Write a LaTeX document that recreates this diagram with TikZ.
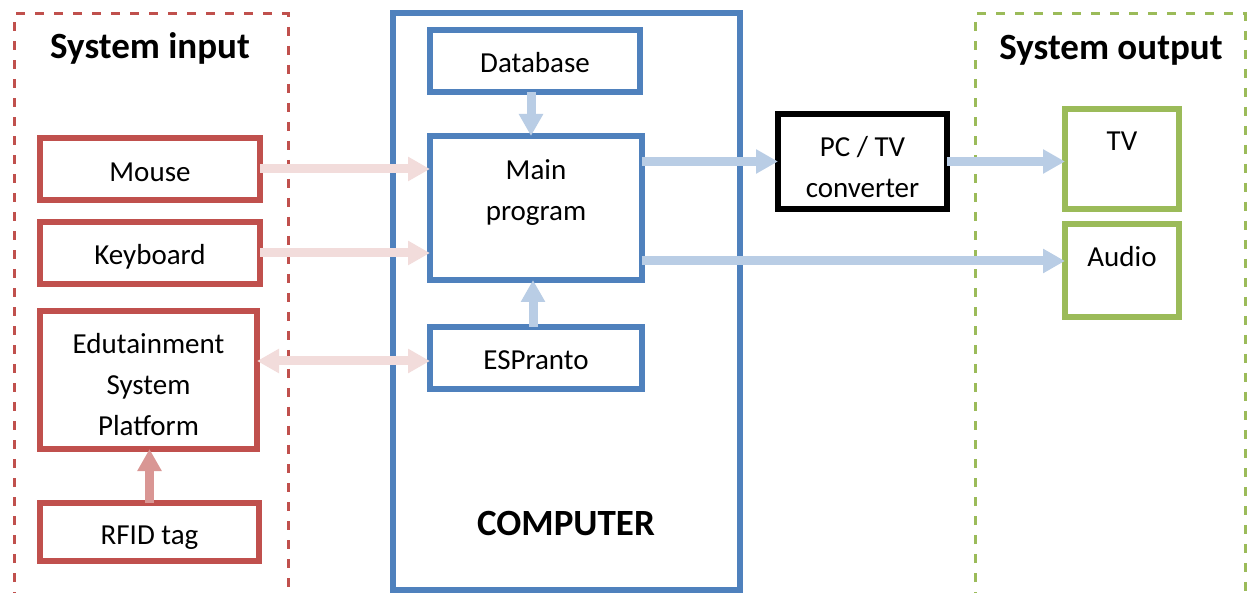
\documentclass[tikz,border=0pt]{standalone}
\usepackage{fontspec}
\setmainfont{Carlito}
\usetikzlibrary{arrows.meta}

\definecolor{inred}{HTML}{C0504D}
\definecolor{pcblue}{HTML}{4F81BD}
\definecolor{outgreen}{HTML}{9BBB59}
\definecolor{flowpink}{HTML}{F2DCDB}
\definecolor{flowblue}{HTML}{B9CDE5}
\definecolor{tagpink}{HTML}{D99694}

\begin{document}
\begin{tikzpicture}[x=1pt,y=-1pt,
  box/.style={draw, line width=6pt, fill=white, inner sep=0pt, outer sep=0pt},
  redbox/.style={box, draw=inred},
  bluebox/.style={box, draw=pcblue},
  greenbox/.style={box, draw=outgreen},
  blackbox/.style={box, draw=black},
  boxtext/.style={font=\fontsize{29}{41}\selectfont, inner sep=0pt, outer sep=0pt, anchor=north, align=center},
  heading/.style={font=\fontsize{37}{44}\selectfont\bfseries, inner sep=0pt, anchor=base},
  group/.style={line width=3pt, dash pattern=on 9pt off 10pt},
  flow/.style={line width=9pt, -{Triangle[width=23pt,length=22pt]}},
  inflow/.style={flow, draw=flowpink},
  pcflow/.style={flow, draw=flowblue},
  tagflow/.style={flow, draw=tagpink},
]
\useasboundingbox (0,0) rectangle (1248,593);
\clip (0,0) rectangle (1248,593);

% input / output groups
\draw[group, draw=inred] (14,620) -- (14,14) -- (288,14) -- (288,620);
\draw[group, draw=outgreen] (975,620) -- (975,14) -- (1245,14) -- (1245,620);
\node[heading] (intitle) at (150,59) {System input};
\node[heading] (outtitle) at (1111,60) {System output};

% computer
\node[bluebox, minimum width=347pt, minimum height=577pt] (computer) at (566.5,301.5) {};
\node[heading] (comptitle) at (566,535) {COMPUTER};

\node[bluebox, minimum width=210pt, minimum height=62pt] (db) at (535,61) {};
\node[bluebox, minimum width=212pt, minimum height=144pt] (main) at (536,208) {};
\node[bluebox, minimum width=212pt, minimum height=62pt] (esp) at (536,358) {};

% input devices
\node[redbox, minimum width=220pt, minimum height=62pt] (mouse) at (150,169) {};
\node[redbox, minimum width=220pt, minimum height=62pt] (kbd) at (150,253) {};
\node[redbox, minimum width=217pt, minimum height=138pt] (edu) at (148.5,380) {};
\node[redbox, minimum width=219pt, minimum height=58pt] (rfid) at (149.5,532) {};

% converter and outputs
\node[blackbox, minimum width=169pt, minimum height=95pt] (pctv) at (862.5,161.5) {};
\node[greenbox, minimum width=114pt, minimum height=100pt] (tv) at (1122,159) {};
\node[greenbox, minimum width=114pt, minimum height=93pt] (audio) at (1122,270.5) {};

% box texts, hanging from the top edge of each box
\node[boxtext] (db-t) at ([yshift=-14pt]db.north) {\strut Database};
\node[boxtext] (main-t) at ([yshift=-15pt]main.north) {\strut Main\\\strut program};
\node[boxtext] (esp-t) at ([yshift=-14pt]esp.north) {\strut ESPranto};
\node[boxtext] (mouse-t) at ([yshift=-15pt]mouse.north) {\strut Mouse};
\node[boxtext] (kbd-t) at ([yshift=-14pt]kbd.north) {\strut Keyboard};
\node[boxtext] (edu-t) at ([yshift=-14pt]edu.north) {\strut Edutainment\\\strut System\\\strut Platform};
\node[boxtext] (rfid-t) at ([yshift=-13pt]rfid.north) {\strut RFID tag};
\node[boxtext] (pctv-t) at ([yshift=-14pt]pctv.north) {\strut PC / TV\\\strut converter};
\node[boxtext] (tv-t) at ([yshift=-13pt]tv.north) {\strut TV};
\node[boxtext] (audio-t) at ([yshift=-14pt]audio.north) {\strut Audio};

% data flows
\draw[inflow] (mouse.east) -- (mouse.east -| main.west);
\draw[inflow] (kbd.east) -- (kbd.east -| main.west);
\draw[inflow, {Triangle[width=23pt,length=22pt]}-{Triangle[width=23pt,length=22pt]}]
  ([yshift=-3pt]esp.west -| edu.east) -- ([yshift=-3pt]esp.west);
\draw[tagflow] (rfid.north) -- (rfid.north |- edu.south);

\draw[pcflow] ([xshift=-4pt]db.south) -- ([xshift=-4pt]db.south |- main.north);
\draw[pcflow] ([xshift=-3pt]esp.north) -- ([xshift=-3pt]esp.north |- main.south);
\draw[pcflow] (pctv.west -| main.east) -- (pctv.west);
\draw[pcflow] (pctv.east) -- (pctv.east -| tv.west);
\draw[pcflow] ([yshift=19pt]main.south east) -- ([yshift=19pt]main.south east -| audio.west);
\end{tikzpicture}
\end{document}
